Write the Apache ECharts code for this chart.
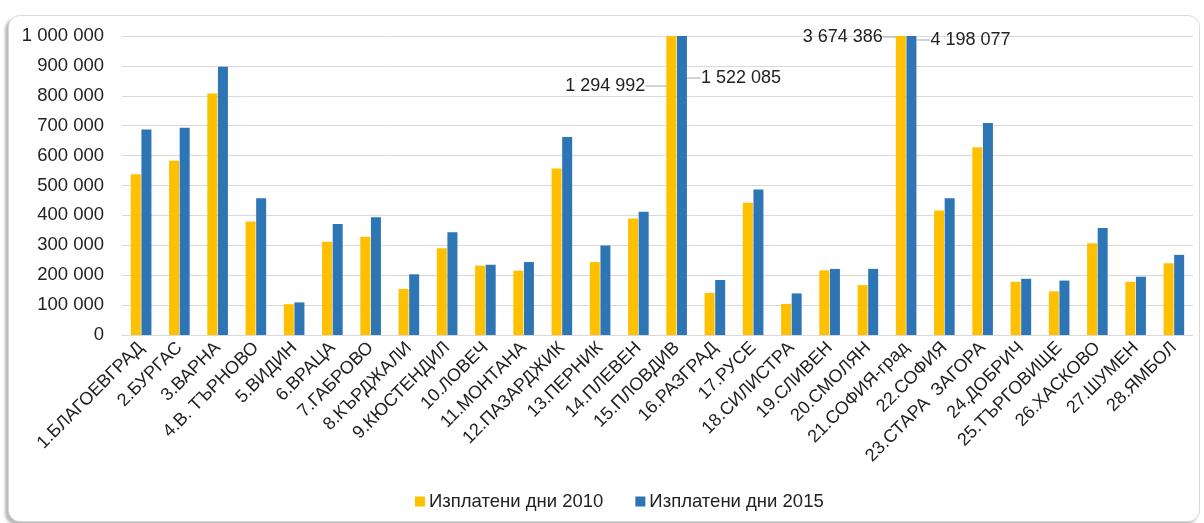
<!DOCTYPE html>
<html>
<head>
<meta charset="utf-8">
<script src="https://cdn.jsdelivr.net/npm/echarts@6/dist/echarts.min.js"></script>
<style>
  html, body { margin: 0; padding: 0; background: #fff; }
  #frame { position: absolute; left: 8px; top: 15px; width: 1190px; height: 505px;
           border: 1px solid #d9d9d9; border-radius: 12px;
           box-shadow: -3px 3px 3px rgba(0,0,0,0.28); background: #fff; }
  #chart { position: absolute; left: 0; top: 0; width: 1204px; height: 523px; }
</style>
</head>
<body>
<div id="frame"></div>
<div id="chart"></div>
<script>
const categories = ['1.БЛАГОЕВГРАД','2.БУРГАС','3.ВАРНА','4.В. ТЪРНОВО','5.ВИДИН','6.ВРАЦА','7.ГАБРОВО','8.КЪРДЖАЛИ','9.КЮСТЕНДИЛ','10.ЛОВЕЧ','11.МОНТАНА','12.ПАЗАРДЖИК','13.ПЕРНИК','14.ПЛЕВЕН','15.ПЛОВДИВ','16.РАЗГРАД','17.РУСЕ','18.СИЛИСТРА','19.СЛИВЕН','20.СМОЛЯН','21.СОФИЯ-град','22.СОФИЯ','23.СТАРА  ЗАГОРА','24.ДОБРИЧ','25.ТЪРГОВИЩЕ','26.ХАСКОВО','27.ШУМЕН','28.ЯМБОЛ'];
const days2010 = [538000,583000,808000,380000,103000,312000,329000,154000,290000,232000,215000,557000,244000,390000,1294992,141000,442000,104000,216000,167000,3674386,416000,628000,178000,146000,307000,178000,240000];
const days2015 = [687000,693000,897000,457000,109000,371000,394000,203000,344000,235000,244000,662000,299000,412000,1522085,184000,487000,139000,221000,221000,4198077,457000,709000,188000,182000,358000,195000,268000];
const seriesNames = ['Изплатени дни 2010','Изплатени дни 2015'];
const yTicks = [0,100000,200000,300000,400000,500000,600000,700000,800000,900000,1000000];

const fmt = v => String(v).replace(/\B(?=(\d{3})+(?!\d))/g, ' ');
const FONT = '"Liberation Sans", Arial, sans-serif';
const TXT = '#222222';

// labels for bars that exceed the axis maximum
const labelSpecs2010 = { 14: {position: [-21, 50], align: 'right'}, 20: {position: [-13, 1], align: 'right'} };
const labelSpecs2015 = { 14: {position: [24, 42], align: 'left'}, 20: {position: [24, 4], align: 'left'} };

function buildData(values, specs) {
  return values.map((v, i) => {
    const s = specs[i];
    if (!s) return v;
    return {
      value: v,
      label: { show: true, position: s.position, align: s.align, verticalAlign: 'middle',
               formatter: p => fmt(p.value), fontSize: 18, fontFamily: FONT, color: TXT },
      labelLine: { show: true, lineStyle: { color: '#a6a6a6', width: 1 } }
    };
  });
}

const chart = echarts.init(document.getElementById('chart'), null, {renderer: 'canvas'});
chart.setOption({
  animation: false,
  backgroundColor: 'transparent',
  grid: { left: 122, right: 11, top: 36, bottom: 188, containLabel: false },
  legend: {
    data: seriesNames, left: 410, top: 487, itemWidth: 10, itemHeight: 10, itemGap: 32,
    icon: 'rect',
    textStyle: { fontSize: 18.5, fontFamily: FONT, color: TXT, padding: [0, 0, 0, -1] }
  },
  xAxis: {
    type: 'category', data: categories,
    axisLine: { lineStyle: { color: '#d9d9d9' } },
    axisTick: { show: false },
    axisLabel: { interval: 0, rotate: 45, fontSize: 18, fontFamily: FONT, color: TXT, margin: 10 }
  },
  yAxis: {
    type: 'value', min: yTicks[0], max: yTicks[yTicks.length - 1], interval: yTicks[1] - yTicks[0],
    axisLine: { show: false }, axisTick: { show: false },
    splitLine: { lineStyle: { color: '#d9d9d9', width: 1 } },
    axisLabel: { fontSize: 18.5, fontFamily: FONT, color: TXT, margin: 18, formatter: v => fmt(v) }
  },
  series: [
    { name: seriesNames[0], type: 'bar', barWidth: 10, barGap: '6%', clip: true,
      itemStyle: { color: '#FFC000' },
      data: buildData(days2010, labelSpecs2010) },
    { name: seriesNames[1], type: 'bar', barWidth: 10, barGap: '6%', clip: true,
      itemStyle: { color: '#2E75B6' },
      data: buildData(days2015, labelSpecs2015) }
  ]
});
</script>
</body>
</html>
